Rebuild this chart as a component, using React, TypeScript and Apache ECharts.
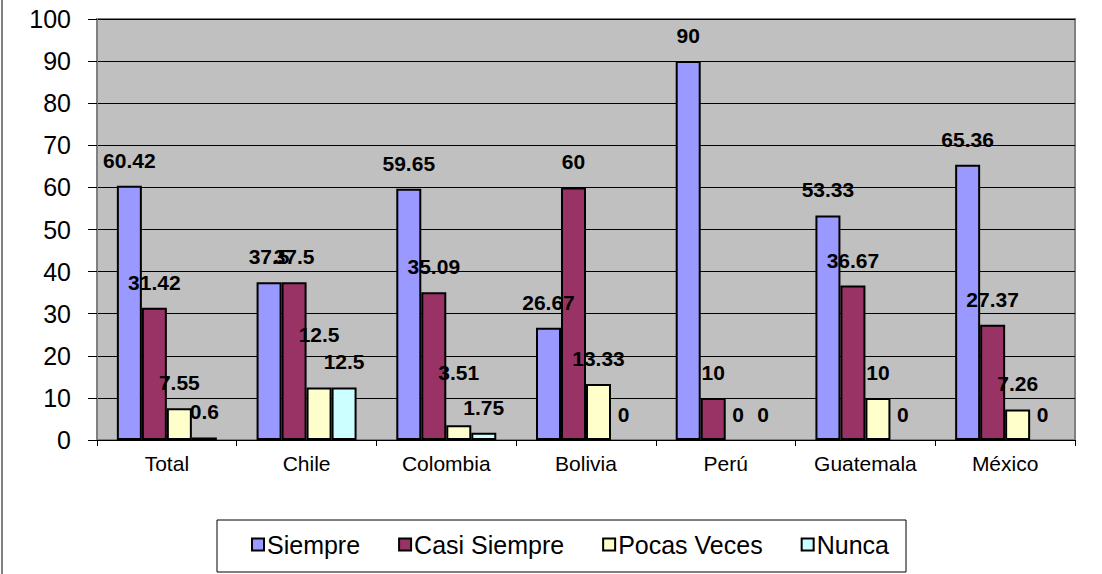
import React, { useEffect, useRef } from "react";
import * as echarts from "echarts";

const categories = ["Total", "Chile", "Colombia", "Bolivia", "Perú", "Guatemala", "México"];
const siempre = [60.42, 37.5, 59.65, 26.67, 90, 53.33, 65.36];
const casiSiempre = [31.42, 37.5, 35.09, 60, 10, 36.67, 27.37];
const pocasVeces = [7.55, 12.5, 3.51, 13.33, 0, 10, 7.26];
const nunca = [0.6, 12.5, 1.75, 0, 0, 0, 0];
const seriesNames = ["Siempre", "Casi Siempre", "Pocas Veces", "Nunca"];
const seriesColors = ["#9999FF", "#993366", "#FFFFCC", "#CCFFFF"];
// labels lifted to avoid overlapping the neighbouring label: [series, category]
const raisedLabels = [[2, 1], [2, 2]];

const FONT = '"Liberation Sans", Arial, sans-serif';

export default function App() {
  const ref = useRef<HTMLDivElement>(null);
  useEffect(() => {
    document.body.style.margin = "0";
    const chart = echarts.init(ref.current!, null, { renderer: "svg" });
    const values = [siempre, casiSiempre, pocasVeces, nunca];
    chart.setOption({
      animation: false,
      backgroundColor: "#FFFFFF",
      textStyle: { fontFamily: FONT },
      grid: {
        left: 97,
        right: 27,
        top: 19,
        bottom: 134,
        show: true,
        backgroundColor: "#C0C0C0",
        borderColor: "#808080",
        borderWidth: 2,
      },
      legend: {
        data: seriesNames,
        left: 251,
        top: 532,
        itemWidth: 12,
        itemHeight: 12,
        itemGap: 38,
        icon: "rect",
        padding: 0,
        textStyle: { fontSize: 25, color: "#000", fontFamily: FONT, padding: [0, 0, 0, -2] },
        itemStyle: { borderColor: "#000", borderWidth: 2 },
      },
      xAxis: {
        type: "category",
        data: categories,
        axisLine: { lineStyle: { color: "#000", width: 1 } },
        axisTick: { show: true, length: 6, lineStyle: { color: "#000" } },
        axisLabel: { fontSize: 21, color: "#000", margin: 13, fontFamily: FONT },
        splitLine: { show: false },
      },
      yAxis: {
        type: "value",
        min: 0,
        max: 100,
        interval: 10,
        axisLine: { show: true, lineStyle: { color: "#808080", width: 2 } },
        axisTick: { show: true, length: 9, lineStyle: { color: "#000" } },
        axisLabel: { fontSize: 25, color: "#000", margin: 26, fontFamily: FONT },
        splitLine: { show: true, lineStyle: { color: "#000", width: 1 } },
      },
      graphic: [
        {
          type: "line",
          shape: { x1: 2, y1: 0, x2: 2, y2: 574 },
          style: { stroke: "#808080", lineWidth: 2 },
        },
        {
          type: "rect",
          shape: { x: 217, y: 520, width: 689, height: 52 },
          style: { fill: "none", stroke: "#000", lineWidth: 1 },
          z: -1,
        },
      ],
      series: seriesNames.map((name, i) => ({
        name,
        type: "bar",
        data: values[i].map((v, j) => {
          const raised = raisedLabels.some(([s, c]) => s === i && c === j);
          const item: any = { value: v };
          if (v === 0) item.itemStyle = { borderWidth: 0 };
          if (raised) item.label = { distance: 42 };
          return item;
        }),
        barWidth: 25,
        barGap: "0%",
        itemStyle: { color: seriesColors[i], borderColor: "#000", borderWidth: 2 },
        label: {
          show: true,
          position: "top",
          distance: 15,
          color: "#000",
          fontSize: 21,
          fontWeight: "bold",
          fontFamily: FONT,
        },
      })),
    });
    return () => chart.dispose();
  }, []);
  return <div ref={ref} style={{ width: 1102, height: 574 }} />;
}
